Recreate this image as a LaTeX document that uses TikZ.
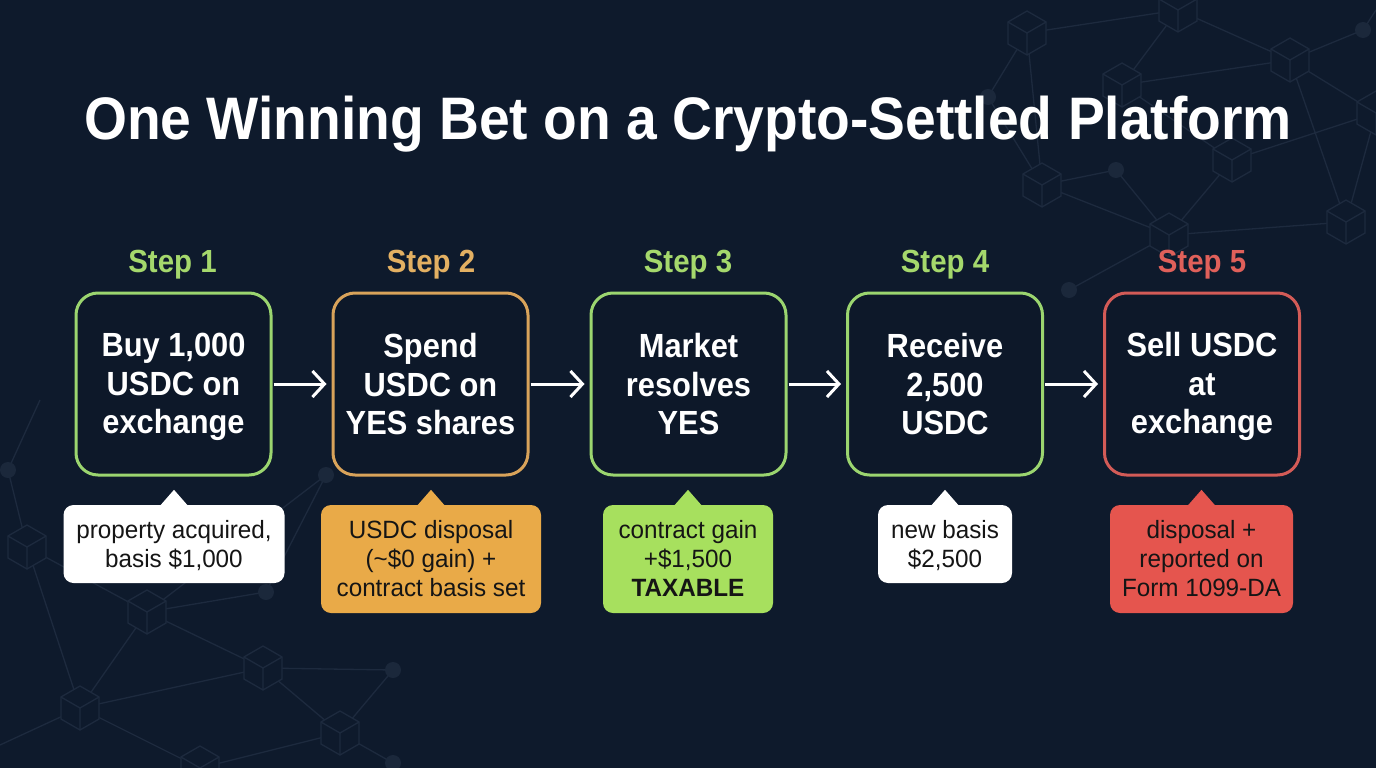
\documentclass[tikz,border=0pt]{standalone}
\usepackage{fontspec}
\setmainfont[FakeStretch=0.92]{Liberation Sans}
\newfontfamily\callfont[FakeStretch=0.97]{Liberation Sans}
\usetikzlibrary{arrows.meta}
\definecolor{bg}{HTML}{0E1A2C}
\definecolor{boxbg}{HTML}{0D1829}
\definecolor{netc}{HTML}{1D2A3E}
\definecolor{dotc}{HTML}{1B283B}
\definecolor{grn}{HTML}{A5D86C}
\definecolor{grnb}{HTML}{9BD56F}
\definecolor{org}{HTML}{E3B062}
\definecolor{orgb}{HTML}{D9A35A}
\definecolor{rd}{HTML}{E0605A}
\definecolor{rdb}{HTML}{D35B57}
\definecolor{cwhite}{HTML}{FFFFFF}
\definecolor{corg}{HTML}{E9AA48}
\definecolor{cgrn}{HTML}{A7E05E}
\definecolor{crd}{HTML}{E5554E}
\definecolor{ctext}{HTML}{151515}
\newcommand{\bxtop}{\rule{0pt}{30pt}}
\newcommand{\bxbot}{\rule[-6pt]{0pt}{6pt}}
\newcommand{\cltop}{\rule{0pt}{22pt}}
\newcommand{\clbot}{\rule[-5pt]{0pt}{5pt}}
\begin{document}
\begin{tikzpicture}[x=1pt,y=-1pt,
  net/.style={draw=netc, line width=1.3pt},
  cubeshape/.pic={
    \filldraw[fill=bg, draw=netc, line width=1.3pt] (90:22)--(30:22)--(-30:22)--(-90:22)--(-150:22)--(150:22)--cycle;
    \draw[netc, line width=1.3pt] (-150:22)--(0,0)--(-30:22) (0,0)--(90:22);
  },
  netdot/.style={fill=dotc},
  steplab/.style={text=#1, anchor=base, font=\fontsize{32}{36}\selectfont\bfseries},
  stepbox/.style={draw=#1, line width=3pt, rounded corners=22pt, minimum width=195pt, minimum height=182pt, fill=boxbg, text=white, align=center, inner sep=0pt, font=\fontsize{33.5}{38.5}\selectfont\bfseries},
  callout/.style={fill=#1, rounded corners=10pt, inner sep=0pt, align=center, text=ctext, font=\callfont\fontsize{25}{29}\selectfont},
  flow/.style={draw=white, line width=3pt, -{Straight Barb[length=12pt,width=26pt]}, shorten >=5pt, shorten <=1pt},
]
\useasboundingbox (0,0) rectangle (1376,768);
\fill[bg] (0,0) rectangle (1376,768);

% ---- background network, top right ----
\coordinate (nA) at (1027,33);
\coordinate (nB) at (1178,10);
\coordinate (nC) at (1290,60);
\coordinate (nD) at (1122,85);
\coordinate (nE) at (1042,185);
\coordinate (nF) at (1232,160);
\coordinate (nG) at (1346,222);
\coordinate (nH) at (1169,235);
\coordinate (nI) at (1376,113);
\coordinate (d1) at (988,97);
\coordinate (d2) at (1116,170);
\coordinate (d3) at (1363,30);
\coordinate (d4) at (1069,290);
\coordinate (nJ) at (1376,10);
\draw[net] (nA)--(nB) (nA)--(nE) (nA)--(d1) (nB)--(nD) (nB)--(nC) (nD)--(nC) (nC)--(d3) (nC)--(nG) (nD)--(nF)
  (nE)--(d2) (d2)--(nH) (nF)--(nH) (nH)--(nG) (nE)--(nH) (nH)--(d4) (nG)--(nI) (nF)--(nI) (d1)--(nE) (d3)--(nJ) (nC)--(nI);
\foreach \p in {nA,nB,nC,nD,nE,nF,nG,nH,nI} \pic at (\p) {cubeshape};
\foreach \p in {d1,d2,d3,d4} \fill[netdot] (\p) circle (8pt);

% ---- background network, bottom left ----
\coordinate (mP) at (27,547);
\coordinate (mQ) at (147,612);
\coordinate (mR) at (263,668);
\coordinate (mS) at (80,708);
\coordinate (mT) at (340,733);
\coordinate (mU) at (200,768);
\coordinate (e1) at (326,475);
\coordinate (e2) at (266,592);
\coordinate (e3) at (393,670);
\coordinate (e4) at (393,763);
\coordinate (e0) at (8,470);
\coordinate (eL) at (0,745);
\coordinate (eT) at (40,400);
\draw[net] (mP)--(mQ) (mP)--(mS) (mQ)--(e2) (e2)--(e1) (mQ)--(mR) (mR)--(mT) (e3)--(mT) (mS)--(mR) (mS)--(mQ)
  (mS)--(mU) (mT)--(e4) (mT)--(mU) (mR)--(e3) (e0)--(mP) (mS)--(eL) (eT)--(e0) (e1)--(mQ);
\foreach \p in {mP,mQ,mR,mS,mT,mU} \pic at (\p) {cubeshape};
\foreach \p in {e1,e2,e3,e4,e0} \fill[netdot] (\p) circle (8pt);

% ---- title ----
\node[anchor=base, text=white, font=\fontsize{60}{72}\selectfont\bfseries] (title) at (688,139) {One Winning Bet on a Crypto-Settled Platform};

% ---- step labels ----
\node[steplab=grn] (s1) at (172.5,272) {Step 1};
\node[steplab=org] (s2) at (431,272) {Step 2};
\node[steplab=grn] (s3) at (688,272) {Step 3};
\node[steplab=grn] (s4) at (945,272) {Step 4};
\node[steplab=rd]  (s5) at (1202,272) {Step 5};

% ---- step boxes ----
\node[stepbox=grnb] (b1) at (173.5,384) {\bxtop Buy 1,000\\USDC on\\exchange\bxbot};
\node[stepbox=orgb] (b2) at (430.5,384) {\bxtop Spend\\USDC on\\YES shares\bxbot};
\node[stepbox=grnb] (b3) at (688.5,384) {\bxtop Market\\resolves\\YES\bxbot};
\node[stepbox=grnb] (b4) at (945,384) {\bxtop Receive\\2,500\\USDC\bxbot};
\node[stepbox=rdb]  (b5) at (1202,384) {\bxtop Sell USDC\\at\\exchange\bxbot};

% ---- arrows ----
\draw[flow] (b1.east) -- (b2.west);
\draw[flow] (b2.east) -- (b3.west);
\draw[flow] (b3.east) -- (b4.west);
\draw[flow] (b4.east) -- (b5.west);

% ---- callouts ----
\node[callout=cwhite, minimum width=221pt, minimum height=78pt] (c1) at (174,544) {\cltop property acquired,\\basis \$1,000\clbot};
\node[callout=corg, minimum width=220pt, minimum height=108pt] (c2) at (431,559) {\cltop USDC disposal\\(\textasciitilde\$0 gain) +\\contract basis set\clbot};
\node[callout=cgrn, minimum width=170pt, minimum height=108pt] (c3) at (688,559) {\cltop contract gain\\+\$1,500\\\textbf{TAXABLE}\clbot};
\node[callout=cwhite, minimum width=134pt, minimum height=78pt] (c4) at (945,544) {\cltop new basis\\\$2,500\clbot};
\node[callout=crd, minimum width=183pt, minimum height=108pt] (c5) at (1201.5,559) {\cltop disposal +\\reported on\\Form 1099-DA\clbot};

\foreach \c/\col in {c1/cwhite,c2/corg,c3/cgrn,c4/cwhite,c5/crd}
  \fill[\col] ([xshift=-14pt,yshift=-1pt]\c.north) -- ([yshift=15pt]\c.north) -- ([xshift=14pt,yshift=-1pt]\c.north) -- cycle;
\end{tikzpicture}
\end{document}
